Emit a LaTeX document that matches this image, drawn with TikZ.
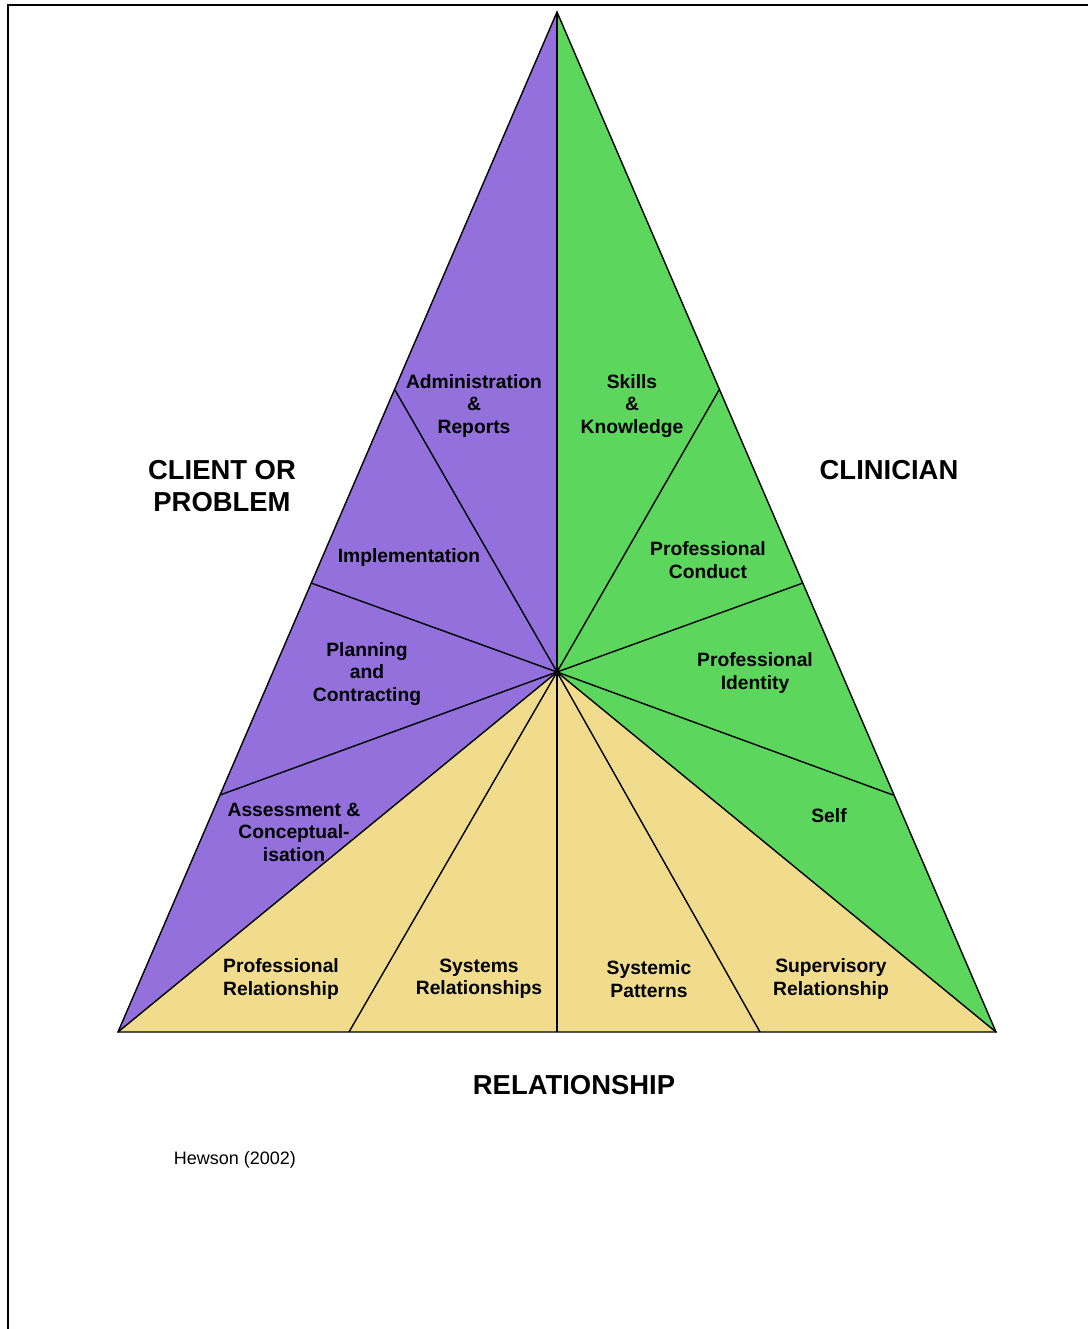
\documentclass[tikz,border=0pt]{standalone}
\usepackage{fontspec}
\usepackage{xcolor}
\setmainfont{Liberation Sans}
\definecolor{clientpurple}{RGB}{147,112,219}
\definecolor{clinicgreen}{RGB}{92,214,92}
\definecolor{relyellow}{RGB}{240,220,140}

\begin{document}
\begin{tikzpicture}[x=0.025cm,y=-0.025cm,
  sector/.style={font=\bfseries\fontsize{13.7}{16}\selectfont,align=center,inner sep=0pt},
  side/.style={font=\bfseries\fontsize{19.5}{22.8}\selectfont,align=center,inner sep=0pt},
  divider/.style={line width=1pt}]
\useasboundingbox (0,0) rectangle (1088,1329);
\draw[line width=1.4pt] (8,1329) -- (8,5) -- (1088,5);

% corners, centre and the points on the edges
\coordinate (apex) at (557,12);
\coordinate (left) at (118,1032);
\coordinate (right) at (996,1032);
\coordinate (centre) at (557,672);
\coordinate (l1) at (395,390);
\coordinate (l2) at (311,583);
\coordinate (l3) at (220,795);
\coordinate (b1) at (349,1032);
\coordinate (b2) at (557,1032);
\coordinate (b3) at (760,1032);
\coordinate (r1) at (893,795);
\coordinate (r2) at (803,583);
\coordinate (r3) at (719,390);

\fill[clientpurple] (apex) -- (left) -- (centre) -- cycle;
\fill[clinicgreen] (apex) -- (right) -- (centre) -- cycle;
\fill[relyellow] (left) -- (right) -- (centre) -- cycle;

\foreach \p in {apex,l1,l2,l3,left,b1,b2,b3,right,r1,r2,r3}
  \draw[divider] (centre) -- (\p);
\draw[divider] (apex) -- (left) -- (right) -- cycle;

\node[sector] (admin) at (474,406) {Administration\\\&\\Reports};
\node[sector] (skills) at (632,406) {Skills\\\&\\Knowledge};
\node[sector] (impl) at (409,558) {Implementation};
\node[sector] (conduct) at (708,560) {Professional\\Conduct};
\node[sector] (planning) at (367,674) {Planning\\and\\Contracting};
\node[sector] (identity) at (755,673) {Professional\\Identity};
\node[sector] (assess) at (294,832) {Assessment \&\\Conceptual-\\isation};
\node[sector] (self) at (829,816) {Self};
\node[sector] (profrel) at (281,979) {Professional\\Relationship};
\node[sector] (sysrel) at (479,979) {Systems\\Relationships};
\node[sector] (syspat) at (649,979) {Systemic\\Patterns};
\node[sector] (suprel) at (831,979) {Supervisory\\Relationship};

\node[side] (client) at (222,486) {CLIENT OR\\PROBLEM};
\node[side] (clinician) at (889,470) {CLINICIAN};
\node[side] (relation) at (574,1085) {RELATIONSHIP};
\node[font=\fontsize{12.8}{15}\selectfont,inner sep=0pt] (source) at (235,1160) {Hewson (2002)};
\end{tikzpicture}
\end{document}
